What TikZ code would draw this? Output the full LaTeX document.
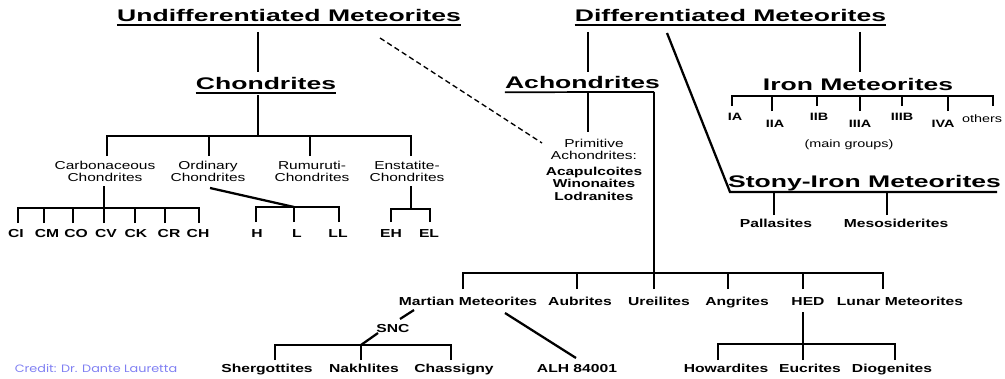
\documentclass[tikz,border=0pt]{standalone}
\usepackage{fontspec}
\setmainfont{Liberation Sans}
\newfontfamily\titlefont[FakeStretch=1.58]{Liberation Sans}
\newfontfamily\labelfont[FakeStretch=1.35]{Liberation Sans}
\newfontfamily\creditfont[FakeStretch=1.2]{Poppins}
\definecolor{Credit}{HTML}{7F7FF2}

\begin{document}
\begin{tikzpicture}[x=0.75pt,y=-0.75pt,
    title/.style={font=\titlefont\bfseries\fontsize{12.6}{14}\selectfont,anchor=base,inner sep=0pt},
    lbl/.style={font=\labelfont\bfseries\fontsize{8.7}{9.3}\selectfont,anchor=base,inner sep=0pt},
    grpid/.style={font=\labelfont\bfseries\fontsize{8}{9}\selectfont,anchor=base,inner sep=0pt},
    grp/.style={font=\labelfont\fontsize{8.6}{9.3}\selectfont,anchor=base,inner sep=0pt,align=center},
    br/.style={line width=1.7pt},
    uline/.style={line width=1.3pt},
    dashline/.style={line width=1pt,dash pattern=on 4pt off 2.5pt}
  ]
  \useasboundingbox (0,0) rectangle (1005,378);

  % main headings
  \node[title] (undiff) at (289,21.5) {Undifferentiated Meteorites};
  \node[title] (diff) at (730.5,21.5) {Differentiated Meteorites};
  \node[title] (chon) at (266,89.5) {Chondrites};
  \node[title] (achon) at (582.5,89) {Achondrites};
  \node[title] (iron) at (858,90.5) {Iron Meteorites};
  \node[title] (stony) at (864.5,187.7) {Stony-Iron Meteorites};
  \foreach \n in {undiff,diff,chon}
    \draw[uline] ([yshift=-2.4pt]\n.base west) -- ([yshift=-2.4pt]\n.base east);

  % chondrite groups (base = last line)
  \node[grp] (carb) at (105,181.5) {Carbonaceous\\Chondrites};
  \node[grp] (ord) at (208,181.5) {Ordinary\\Chondrites};
  \node[grp] (rum) at (312,181.5) {Rumuruti-\\Chondrites};
  \node[grp] (ens) at (407,181.5) {Enstatite-\\Chondrites};
  \foreach \n/\t/\x in {ci/CI/16,cm/CM/47,co/CO/76,cv/CV/106,ck/CK/136,cr/CR/169,ch/CH/198,
                        h/H/257,l/L/297,ll/LL/338,eh/EH/391,el/EL/429}
    \node[lbl] (\n) at (\x,237) {\t};

  % iron groups
  \node[grpid] (ia) at (735,120.5) {IA};
  \node[grpid] (iia) at (775,127.3) {IIA};
  \node[grpid] (iib) at (819,120) {IIB};
  \node[grpid] (iiia) at (860,127.3) {IIIA};
  \node[grpid] (iiib) at (902,120) {IIIB};
  \node[grpid] (iva) at (943,127.3) {IVA};
  \node[grpid,font=\labelfont\fontsize{8}{9}\selectfont] (oth) at (982,122.5) {others};
  \node[grp,font=\labelfont\fontsize{8}{9}\selectfont] (maingr) at (849,147) {(main groups)};

  % primitive achondrites
  \node[grp] (prim) at (594,200) {Primitive\\Achondrites:\\[2.4pt]\textbf{Acapulcoites}\\\textbf{Winonaites}\\\textbf{Lodranites}};

  % stony-iron
  \node[lbl] (pall) at (776,227.3) {Pallasites};
  \node[lbl] (meso) at (896,227.3) {Mesosiderites};

  % achondrite groups
  \node[lbl] (mar) at (468,305.5) {Martian Meteorites};
  \node[lbl] (aub) at (580,305.5) {Aubrites};
  \node[lbl] (ure) at (659,305.5) {Ureilites};
  \node[lbl] (ang) at (737,305.5) {Angrites};
  \node[lbl] (hed) at (808,305.5) {HED};
  \node[lbl] (lun) at (900,305.5) {Lunar Meteorites};
  \node[lbl] (snc) at (393,332) {SNC};
  \node[lbl] (sher) at (267,372) {Shergottites};
  \node[lbl] (nakh) at (364,372) {Nakhlites};
  \node[lbl] (chas) at (454,372) {Chassigny};
  \node[lbl] (alh) at (577,372) {ALH 84001};
  \node[lbl] (how) at (726,372) {Howardites};
  \node[lbl] (euc) at (810,372) {Eucrites};
  \node[lbl] (dio) at (892,372) {Diogenites};

  \node[anchor=base,inner sep=0pt,text=Credit,font=\creditfont\fontsize{8}{9}\selectfont] (credit) at (96,372) {Credit: Dr. Dante Lauretta};

  % junctions and line ends
  \coordinate (u-top) at (258,32);
  \coordinate (u-bot) at (258,72);
  \coordinate (c-top) at (258,95);
  \coordinate (cbar) at (258,136);
  \coordinate (d-left) at (588,32);
  \coordinate (d-leftb) at (588,72);
  \coordinate (d-right) at (860,32);
  \coordinate (d-rightb) at (860,72);
  \coordinate (d-diag) at (667,33);
  \coordinate (s-corner) at (730,192);
  \coordinate (s-end) at (997,192);
  \coordinate (p-top) at (588,92);
  \coordinate (p-bot) at (588,132);
  \coordinate (dash-a) at (380,38);
  \coordinate (dash-b) at (542,143);
  \coordinate (a-top) at (654,92);
  \coordinate (abar) at (654,273);
  \coordinate (ibar) at (860,96);
  \coordinate (carb-top) at (104,186);
  \coordinate (carbbar) at (104,208);
  \coordinate (ord-top) at (210,188);
  \coordinate (ordbar) at (294,207);
  \coordinate (ens-top) at (411,186);
  \coordinate (ensbar) at (411,209);
  \coordinate (mar-a) at (414,310);
  \coordinate (snc-a) at (400,319);
  \coordinate (snc-b) at (378,333);
  \coordinate (sncbar) at (361,345);
  \coordinate (alh-a) at (505,313);
  \coordinate (alh-b) at (576,358);
  \coordinate (hed-top) at (803,312);
  \coordinate (hedbar) at (803,344);

  % chondrite branch
  \draw[br] (u-top) -- (u-bot);
  \draw[br] (c-top) -- (cbar);
  \foreach \x in {107,209,310,411} {
    \coordinate (tc\x) at (\x,156);
    \draw[br] (tc\x) |- (cbar);
  }
  \draw[br] (carb-top) -- (carbbar);
  \foreach \x in {18,44,73,104,135,165,199} {
    \coordinate (tk\x) at (\x,223);
    \draw[br] (tk\x) |- (carbbar);
  }
  \draw[br] (ord-top) -- (ordbar);
  \foreach \x in {256,294,339} {
    \coordinate (to\x) at (\x,222);
    \draw[br] (to\x) |- (ordbar);
  }
  \draw[br] (ens-top) -- (ensbar);
  \foreach \x in {391,430} {
    \coordinate (te\x) at (\x,222);
    \draw[br] (te\x) |- (ensbar);
  }
  \draw[dashline] (dash-a) -- (dash-b);

  % differentiated branch
  \draw[br] (d-left) -- (d-leftb);
  \draw[br] (d-right) -- (d-rightb);
  \draw[br] (d-diag) -- (s-corner) -- (s-end);
  \foreach \x/\y in {732/106,772/111,817/106,860/111,902/106,948/111,993/106} {
    \coordinate (ti\x) at (\x,\y);
    \draw[br] (ti\x) |- (ibar);
  }
  \foreach \x in {774,887} {
    \coordinate (ts\x) at (\x,215);
    \draw[br] (ts\x) -- (\x,192);
  }

  % achondrite branch
  \draw[uline] ([yshift=-2.4pt]achon.base west) -- (a-top);
  \draw[br] (a-top) -- (abar);
  \draw[br] (p-top) -- (p-bot);
  \foreach \x in {463,577,654,728,803,883} {
    \coordinate (ta\x) at (\x,289);
    \draw[br] (ta\x) |- (abar);
  }
  \draw[br] (mar-a) -- (snc-a);
  \draw[br] (snc-b) -- (sncbar);
  \foreach \x in {275,361,451} {
    \coordinate (tn\x) at (\x,360);
    \draw[br] (tn\x) |- (sncbar);
  }
  \draw[br] (alh-a) -- (alh-b);
  \draw[br] (hed-top) -- (hedbar);
  \foreach \x in {718,803,895} {
    \coordinate (th\x) at (\x,360);
    \draw[br] (th\x) |- (hedbar);
  }
\end{tikzpicture}
\end{document}
